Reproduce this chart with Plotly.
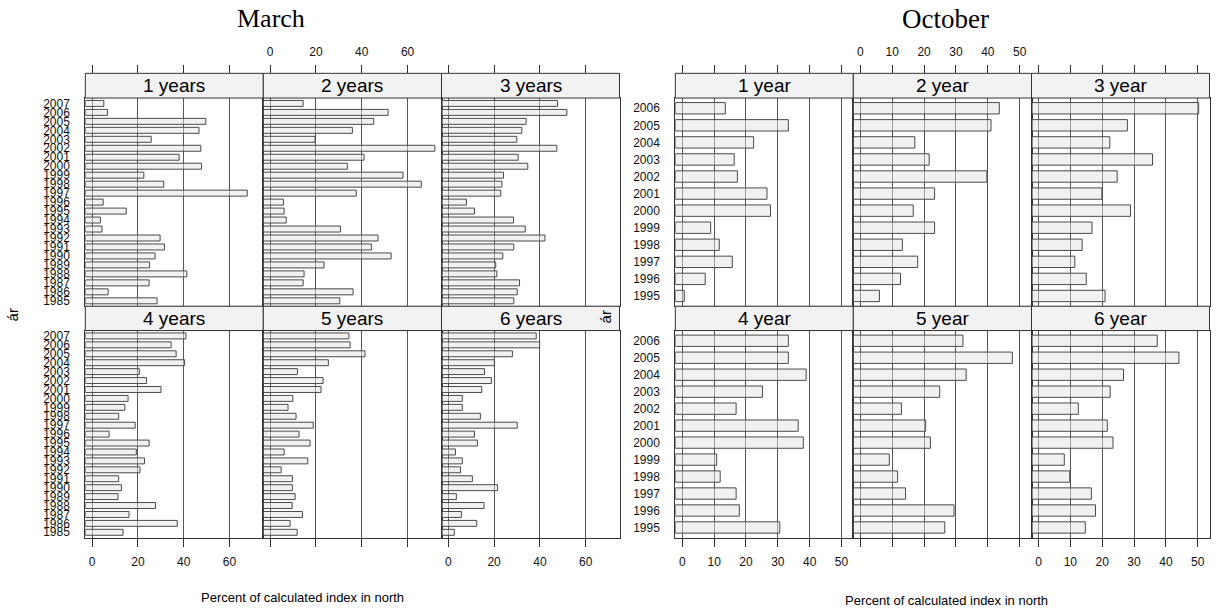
import plotly.graph_objects as go

# ---------------- data ----------------
years_march = ["2007", "2006", "2005", "2004", "2003", "2002", "2001", "2000", "1999", "1998", "1997", "1996",
               "1995", "1994", "1993", "1992", "1991", "1990", "1989", "1988", "1987", "1986", "1985"]
panels_march = ["1 years", "2 years", "3 years", "4 years", "5 years", "6 years"]
march_1 = [5.1, 6.7, 49.7, 46.7, 25.8, 47.5, 38.0, 47.8, 22.6, 31.3, 67.8, 4.8, 14.9, 3.6, 4.3, 29.7, 31.6, 27.5, 25.1, 41.4, 24.9, 7.0, 28.4]
march_2 = [14.4, 51.5, 45.2, 35.9, 19.6, 71.9, 41.0, 33.7, 58.0, 66.0, 37.6, 5.8, 6.1, 7.0, 30.7, 47.1, 44.2, 52.8, 23.5, 14.8, 14.4, 36.2, 30.4]
march_3 = [47.7, 51.8, 34.0, 32.1, 29.9, 47.4, 30.5, 34.7, 24.1, 23.4, 22.9, 7.9, 11.4, 28.5, 33.6, 42.2, 28.6, 23.8, 20.7, 21.2, 31.1, 30.1, 28.6]
march_4 = [41.0, 34.5, 36.7, 40.4, 20.6, 23.8, 30.1, 15.7, 14.3, 11.6, 18.8, 7.4, 24.9, 19.3, 22.9, 20.9, 11.6, 12.8, 11.3, 27.7, 16.1, 37.2, 13.5]
march_5 = [34.4, 34.9, 41.4, 25.4, 11.9, 23.1, 22.2, 9.9, 7.8, 11.3, 18.8, 12.6, 17.4, 6.1, 16.4, 4.8, 9.7, 9.7, 10.9, 9.6, 14.1, 8.7, 11.8]
march_6 = [38.4, 39.9, 28.0, 20.1, 15.8, 18.8, 14.6, 6.1, 6.1, 14.0, 30.1, 11.4, 12.7, 3.1, 6.1, 5.3, 10.5, 21.5, 3.5, 15.6, 5.7, 12.4, 2.6]
march_ticks = [0, 20, 40, 60]

years_october = ["2006", "2005", "2004", "2003", "2002", "2001", "2000", "1999", "1998", "1997", "1996", "1995"]
panels_october = ["1 year", "2 year", "3 year", "4 year", "5 year", "6 year"]
october_1 = [13.5, 33.3, 22.4, 16.3, 17.3, 26.6, 27.7, 8.9, 11.6, 15.7, 7.2, 0.6]
october_2 = [43.6, 41.0, 17.1, 21.6, 39.7, 23.3, 16.6, 23.3, 13.2, 18.0, 12.6, 6.0]
october_3 = [50.3, 27.9, 22.4, 35.8, 24.7, 19.9, 28.9, 16.8, 13.7, 11.4, 15.0, 20.9]
october_4 = [33.3, 33.3, 38.9, 25.2, 16.9, 36.4, 38.0, 10.8, 11.9, 16.9, 17.9, 30.6]
october_5 = [32.2, 47.7, 33.2, 24.9, 12.9, 20.5, 22.0, 9.1, 11.7, 14.2, 29.4, 26.5]
october_6 = [37.3, 44.1, 26.7, 22.5, 12.5, 21.6, 23.4, 8.1, 9.8, 16.6, 17.9, 14.7]
october_ticks = [0, 10, 20, 30, 40, 50]

x_title = "Percent of calculated index in north"
y_title = "ár"

# ---------------- layout helpers ----------------
W, H = 1221, 612
SANS = "Liberation Sans, Arial, Helvetica, sans-serif"
SERIF = "Liberation Serif, Times New Roman, serif"


def fx(x):
    return x / W


def fy(y):
    return 1 - y / H


fig = go.Figure()
layout = dict(width=W, height=H, margin=dict(l=0, r=0, t=0, b=0),
              paper_bgcolor="white", plot_bgcolor="white", showlegend=False,
              shapes=[], annotations=[])

ROWS = [(72.7, 97.5, 306.7), (306.7, 331.2, 539.3)]  # strip top, panel top, panel bottom


def add_lattice(start_n, top_start, cols, panels, cats, series, xrange, ticks,
                title, title_x, title_size, xlab_x, xlab_y, ylab_x, ylab_y):
    cat_order = sorted(cats)
    ncat = len(cats)
    for i, vals in enumerate(series):
        r, c = divmod(i, 3)
        n = start_n + i
        xa = "xaxis" if n == 1 else f"xaxis{n}"
        ya = "yaxis" if n == 1 else f"yaxis{n}"
        xs = "x" if n == 1 else f"x{n}"
        ys = "y" if n == 1 else f"y{n}"
        strip_top, ptop, pbot = ROWS[r]
        bottom_row = (r == 1)
        layout[xa] = dict(domain=[fx(cols[c][0]), fx(cols[c][1])], anchor=ys,
                          range=list(xrange), tickmode="array", tickvals=ticks,
                          showgrid=True, gridcolor="#555555", gridwidth=1,
                          zeroline=False, showline=True, mirror=True,
                          linecolor="#333333", linewidth=1,
                          ticks="outside" if bottom_row else "", ticklen=8,
                          tickcolor="#333333",
                          showticklabels=bottom_row and c != 1,
                          ticklabelstandoff=5,
                          tickfont=dict(family=SANS, size=12, color="#111"),
                          fixedrange=True)
        layout[ya] = dict(domain=[fy(pbot), fy(ptop)], anchor=xs, type="category",
                          categoryorder="array", categoryarray=cat_order,
                          tickmode="array", tickvals=cat_order, ticktext=cat_order,
                          range=[-0.6, ncat - 0.4], showgrid=False, zeroline=False,
                          showline=True, mirror=True, linecolor="#333333", linewidth=1,
                          ticks="", showticklabels=(c == 0), ticklabelstandoff=12,
                          tickfont=dict(family=SANS, size=12, color="#111"),
                          fixedrange=True)
        fig.add_trace(go.Bar(y=cats, x=[v - xrange[0] for v in vals], base=xrange[0],
                             orientation="h", width=2 / 3,
                             marker=dict(color="rgba(228,228,228,0.5)",
                                         line=dict(color="#4a4a4a", width=1)),
                             xaxis=xs, yaxis=ys, hoverinfo="skip"))
        # strip
        layout["shapes"].append(dict(type="rect", xref="paper", yref="paper",
                                     x0=fx(cols[c][0]), x1=fx(cols[c][1]),
                                     y0=fy(ptop), y1=fy(strip_top),
                                     fillcolor="#f2f2f2", line=dict(color="#333333", width=1),
                                     layer="above"))
        layout["annotations"].append(dict(text=panels[i], xref="paper", yref="paper",
                                          x=fx((cols[c][0] + cols[c][1]) / 2),
                                          y=fy((strip_top + ptop) / 2),
                                          xanchor="center", yanchor="middle", showarrow=False,
                                          font=dict(family=SANS, size=19, color="#000")))
    # top tick axes
    for c in range(3):
        n = top_start + c
        base_n = start_n + c
        layout[f"xaxis{n}"] = dict(domain=[fx(cols[c][0]), fx(cols[c][1])], anchor="free",
                                   position=fy(ROWS[0][0]), side="top",
                                   overlaying="x" if base_n == 1 else f"x{base_n}",
                                   range=list(xrange), tickmode="array", tickvals=ticks,
                                   showgrid=False, zeroline=False, showline=False,
                                   ticks="outside", ticklen=8, tickcolor="#333333",
                                   showticklabels=(c == 1), ticklabelstandoff=5,
                                   tickfont=dict(family=SANS, size=12, color="#111"),
                                   fixedrange=True)
        fig.add_trace(go.Scatter(x=[None], y=[None], xaxis=f"x{n}",
                                 yaxis="y" if base_n == 1 else f"y{base_n}",
                                 hoverinfo="skip", showlegend=False))
    layout["annotations"].append(dict(text=title, xref="paper", yref="paper",
                                      x=fx(title_x), y=fy(18), xanchor="center", yanchor="middle",
                                      showarrow=False,
                                      font=dict(family=SERIF, size=title_size, color="#000")))
    layout["annotations"].append(dict(text=x_title, xref="paper", yref="paper",
                                      x=fx(xlab_x), y=fy(xlab_y), xanchor="center", yanchor="middle",
                                      showarrow=False, font=dict(family=SANS, size=13, color="#000")))
    layout["annotations"].append(dict(text=y_title, xref="paper", yref="paper",
                                      x=fx(ylab_x), y=fy(ylab_y), xanchor="center", yanchor="middle",
                                      textangle=-90, showarrow=False,
                                      font=dict(family=SANS, size=15, color="#000")))


march_cols = [(85.3, 263.3), (263.3, 441.5), (441.5, 619.5)]
october_cols = [(675.3, 853.3), (853.3, 1031.5), (1031.5, 1209.5)]

add_lattice(1, 13, march_cols, panels_march, years_march,
            [march_1, march_2, march_3, march_4, march_5, march_6],
            (-3.0, 74.8), march_ticks, "March", 271, 26, 302, 599, 12, 316)
add_lattice(7, 16, october_cols, panels_october, years_october,
            [october_1, october_2, october_3, october_4, october_5, october_6],
            (-2.2, 53.7), october_ticks, "October", 945, 27, 946, 602, 605, 318)

fig.update_layout(**layout)
fig.write_html("out.html", config={"displayModeBar": False},
               post_script="document.body.style.margin='0';document.body.style.padding='0';"
                           "document.documentElement.style.overflow='hidden';")
